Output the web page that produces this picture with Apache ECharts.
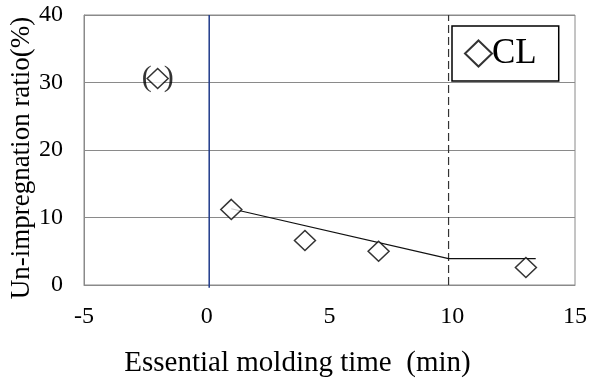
<!DOCTYPE html>
<html>
<head>
<meta charset="utf-8">
<script src="https://cdn.jsdelivr.net/npm/echarts@6/dist/echarts.min.js"></script>
<style>
  html, body { margin: 0; padding: 0; background: #fff; }
  #chart { width: 590px; height: 378px; }
</style>
</head>
<body>
<div id="chart"></div>
<script>
// Measured un-impregnation ratio vs essential molding time
const timeMin = [1, 4, 7, 13];
const ratioPct = [11.2, 6.6, 5.0, 2.6];
// Reference point shown in parentheses
const refPoint = [-2, 30.6];
// Trend line: linear decrease until 9.85 min, then flat
const trendX = [1, 9.85, 13.4];
const trendY = [11.3, 3.9, 3.9];
// Vertical markers
const startLineX = 0.1;
const endLineX = 9.85;

const serif = '"Liberation Serif", "Times New Roman", serif';
const chart = echarts.init(document.getElementById('chart'));

chart.setOption({
  animation: false,
  grid: {
    left: 84, right: 15, top: 15, bottom: 93,
    containLabel: false, outerBoundsMode: 'none',
    show: true, borderColor: '#8a8a8a', borderWidth: 1
  },
  legend: {
    data: ['CL'],
    left: 452, top: 26,
    padding: [10, 22, 10, 12],
    borderColor: '#000', borderWidth: 1.5,
    icon: 'diamond',
    itemWidth: 27, itemHeight: 26, itemGap: 0,
    itemStyle: { color: '#fff', borderColor: '#000', borderWidth: 2 },
    textStyle: { fontFamily: serif, fontSize: 35, color: '#000', padding: [0, 0, 0, -5] }
  },
  xAxis: {
    type: 'value', min: -5, max: 15, interval: 5,
    name: 'Essential molding time  (min)',
    nameLocation: 'middle', nameGap: 64,
    nameTextStyle: { fontFamily: serif, fontSize: 29, color: '#000', padding: [0, 64, 0, 0] },
    axisLine: { show: true, onZero: false, lineStyle: { color: '#8a8a8a' } },
    axisTick: { show: false },
    splitLine: { show: false },
    axisLabel: { fontFamily: serif, fontSize: 24, color: '#000', margin: 20 }
  },
  yAxis: {
    type: 'value', min: 0, max: 40, interval: 10,
    name: 'Un-impregnation ratio(%)',
    nameLocation: 'middle', nameGap: 49, nameMoveOverlap: false,
    nameTextStyle: { fontFamily: serif, fontSize: 27, color: '#000', padding: [0, 16, 0, 0] },
    axisLine: { show: true, onZero: false, lineStyle: { color: '#8a8a8a' } },
    axisTick: { show: false },
    splitLine: { show: true, lineStyle: { color: '#8a8a8a', width: 1 } },
    axisLabel: { fontFamily: serif, fontSize: 24, color: '#000', margin: 21 }
  },
  series: [
    {
      name: 'start',
      type: 'line',
      data: [[startLineX, -0.4], [startLineX, 40]],
      symbol: 'none', silent: true, clip: false,
      lineStyle: { color: '#1f3a8a', width: 1.5 }
    },
    {
      name: 'end',
      type: 'line',
      data: [[endLineX, 0], [endLineX, 40]],
      symbol: 'none', silent: true,
      lineStyle: { color: '#333', width: 1.2, type: [8, 4] }
    },
    {
      name: 'trend',
      type: 'line',
      data: trendX.map((x, i) => [x, trendY[i]]),
      symbol: 'none', silent: true,
      lineStyle: { color: '#111', width: 1.2 }
    },
    {
      name: 'CL',
      type: 'scatter',
      data: timeMin.map((x, i) => [x, ratioPct[i]]),
      symbol: 'diamond', symbolSize: [21, 20],
      itemStyle: { color: '#fff', borderColor: '#000', borderWidth: 1.5 },
      z: 5
    },
    {
      name: 'ref',
      type: 'scatter',
      data: [refPoint],
      symbol: 'diamond', symbolSize: [21, 20],
      itemStyle: { color: '#fff', borderColor: '#000', borderWidth: 1.5 },
      label: {
        show: true, position: 'inside',
        formatter: '{p|(}{g|}{p|)}',
        rich: {
          p: { fontFamily: serif, fontSize: 30, color: '#000' },
          g: { width: 12 }
        }
      },
      z: 5
    }
  ]
});
</script>
</body>
</html>
